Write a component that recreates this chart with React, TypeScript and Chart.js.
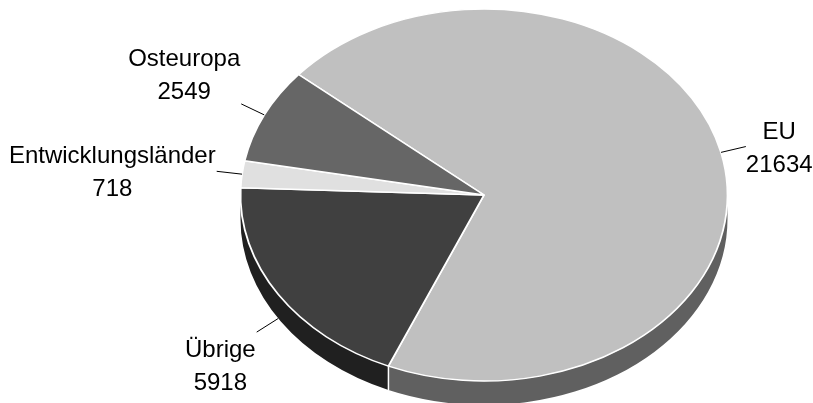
import { useEffect, useRef } from "react";
import { Chart, registerables } from "chart.js";

Chart.register(...registerables);

// ---- data ----
const categories = ["EU", "Übrige", "Entwicklungsländer", "Osteuropa"];
const values = [21634, 5918, 718, 2549];
const topColors = ["#c0c0c0", "#404040", "#e0e0e0", "#666666"];
const sideColors = ["#606060", "#202020", "#9a9a9a", "#3a3a3a"];
const startAngleDeg = 220.4; // canvas angle (clockwise from 3 o'clock) where the first slice starts

// ---- layout ----
const W = 813;
const H = 403;
const CX = 484;
const CY = 195;
const RX = 243.5;
const RY = 186;
const DEPTH = 24;
const LEADER = 25.5;
const LINE_H = 33;
const FONT = '24px "Liberation Sans", Arial, Helvetica, sans-serif';

const pie3d = {
  id: "pie3d",
  beforeDatasetsDraw(chart: any) {
    const meta = chart.getDatasetMeta(0);
    const arcs = meta.data as any[];
    const ctx = chart.ctx as CanvasRenderingContext2D;
    if (!arcs.length) return;
    const TAU = Math.PI * 2;

    // side walls (visible lower half)
    arcs.forEach((arc: any, i: number) => {
      const sa = arc.startAngle;
      const ea = arc.endAngle;
      for (let k = -2; k <= 2; k++) {
        const lo = k * TAU;
        const hi = lo + Math.PI;
        const s = Math.max(sa, lo);
        const e = Math.min(ea, hi);
        if (e > s) {
          ctx.save();
          ctx.beginPath();
          ctx.ellipse(CX, CY, RX, RY, 0, s - lo, e - lo, false);
          ctx.ellipse(CX, CY + DEPTH, RX, RY, 0, e - lo, s - lo, true);
          ctx.closePath();
          ctx.fillStyle = sideColors[i];
          ctx.fill();
          ctx.restore();
        }
      }
    });
    // white edges between side walls
    arcs.forEach((arc: any) => {
      let a = arc.startAngle % TAU;
      if (a < 0) a += TAU;
      if (a > 0.01 && a < Math.PI - 0.01) {
        const x = CX + RX * Math.cos(a);
        const y = CY + RY * Math.sin(a);
        ctx.save();
        ctx.strokeStyle = "#ffffff";
        ctx.lineWidth = 1.5;
        ctx.beginPath();
        ctx.moveTo(x, y);
        ctx.lineTo(x, y + DEPTH);
        ctx.stroke();
        ctx.restore();
      }
    });

    // squash the circular pie into the ellipse top face
    const a0 = arcs[0];
    const r0 = a0.outerRadius;
    ctx.save();
    ctx.translate(CX, CY);
    ctx.scale(RX / r0, RY / r0);
    ctx.translate(-a0.x, -a0.y);
  },
  afterDatasetsDraw(chart: any) {
    chart.ctx.restore();
  },
  afterDraw(chart: any) {
    const meta = chart.getDatasetMeta(0);
    const arcs = meta.data as any[];
    const ctx = chart.ctx as CanvasRenderingContext2D;
    ctx.save();
    ctx.font = FONT;
    ctx.fillStyle = "#000000";
    ctx.strokeStyle = "#000000";
    ctx.lineWidth = 1;
    arcs.forEach((arc: any, i: number) => {
      const mid = (arc.startAngle + arc.endAngle) / 2;
      const c = Math.cos(mid);
      const s = Math.sin(mid);
      const sx = CX + RX * c;
      const sy = CY + RY * s + (s > 0 ? DEPTH : 0);
      const ex = sx + LEADER * c;
      const ey = sy + LEADER * s;
      ctx.beginPath();
      ctx.moveTo(sx, sy);
      ctx.lineTo(ex, ey);
      ctx.stroke();

      const lines = [categories[i], String(values[i])];
      const bw = Math.max(...lines.map((t) => ctx.measureText(t).width));
      const cxText = c < 0 ? ex - 1 - bw / 2 : ex + bw / 2;
      let b1: number;
      if (s < -0.3) {
        b1 = ey - 5 - LINE_H;
      } else if (s > 0.3) {
        b1 = ey + 25;
      } else {
        b1 = ey - 8;
      }
      ctx.textAlign = "center";
      ctx.textBaseline = "alphabetic";
      lines.forEach((t, j) => ctx.fillText(t, cxText, b1 + j * LINE_H));
    });
    ctx.restore();
  },
};

export default function App() {
  const ref = useRef<HTMLCanvasElement | null>(null);
  useEffect(() => {
    if (!ref.current) return;
    const chart = new Chart(ref.current, {
      type: "pie",
      data: {
        labels: categories,
        datasets: [
          {
            data: values,
            backgroundColor: topColors,
            borderColor: "#ffffff",
            borderWidth: 1.5,
            clip: false as any,
          } as any,
        ],
      },
      options: {
        responsive: false,
        animation: false,
        events: [],
        rotation: startAngleDeg + 90,
        layout: { padding: 0 },
        plugins: {
          legend: { display: false },
          tooltip: { enabled: false },
          title: { display: false },
        },
      },
      plugins: [pie3d],
    });
    return () => chart.destroy();
  }, []);
  return (
    <div style={{ position: "absolute", left: 0, top: 0, width: W, height: H, background: "#ffffff" }}>
      <canvas ref={ref} width={W} height={H} style={{ display: "block" }} />
    </div>
  );
}
